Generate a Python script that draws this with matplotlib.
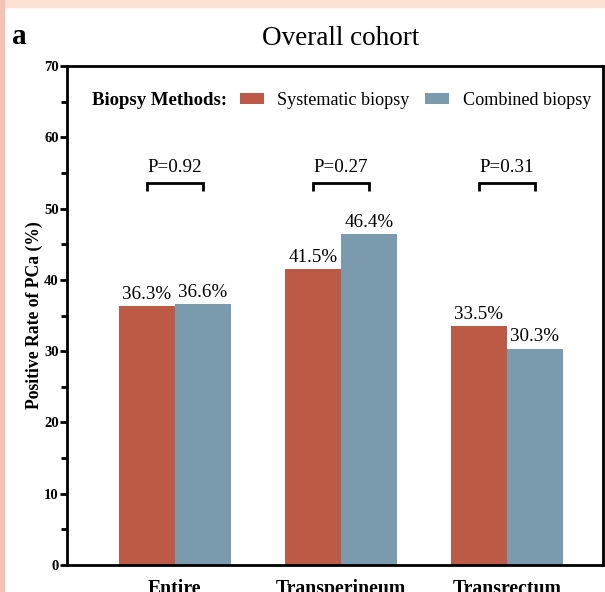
"""Overall cohort: positive rate of PCa by biopsy method and route."""

import matplotlib
matplotlib.use("Agg")
import matplotlib.pyplot as plt
import numpy as np
from matplotlib.patches import Rectangle

SERIF = ["Liberation Serif", "DejaVu Serif"]
plt.rcParams.update({
    "font.family": SERIF,
    "axes.linewidth": 2.0,
})

# ----- data
groups = ["Entire", "Transperineum", "Transrectum"]
systematic = [36.3, 41.5, 33.5]
combined = [36.6, 46.4, 30.3]
p_values = ["P=0.92", "P=0.27", "P=0.31"]
series_names = ["Systematic biopsy", "Combined biopsy"]

C_SYS = "#bc5a45"
C_COMB = "#7a9aad"

fig = plt.figure(figsize=(6.05, 5.92), dpi=100)
fig.patch.set_facecolor("white")

# peach margins left over from the surrounding page
fig.add_artist(Rectangle((0, 1 - 7 / 592), 1, 7 / 592, transform=fig.transFigure,
                         color="#fbe2d4", zorder=0))
fig.add_artist(Rectangle((0, 0), 3.5 / 605, 1, transform=fig.transFigure,
                         color="#f5c3b6", zorder=0))

ax = fig.add_axes([67 / 605, 27 / 592, 536 / 605, 499 / 592])

x = np.arange(len(groups))
w = 0.337
b1 = ax.bar(x - w / 2, systematic, w, color=C_SYS, label=series_names[0])
b2 = ax.bar(x + w / 2, combined, w, color=C_COMB, label=series_names[1])

for bars, vals in ((b1, systematic), (b2, combined)):
    for bar, v in zip(bars, vals):
        ax.text(bar.get_x() + bar.get_width() / 2, v + 0.5, f"{v:.1f}%",
                ha="center", va="bottom", fontsize=13.7)

# significance brackets
for xi, p in zip(x, p_values):
    xl, xr = xi - w / 2, xi + w / 2
    ax.plot([xl, xl, xr, xr], [52.4, 53.6, 53.6, 52.4], color="black",
            lw=2.0, solid_capstyle="butt", solid_joinstyle="miter")
    ax.text(xi, 54.6, p, ha="center", va="bottom", fontsize=13.7)

ax.set_xlim(-0.65, 2.58)
ax.set_ylim(0, 70)
ax.set_yticks(np.arange(0, 71, 10))
ax.set_yticks(np.arange(5, 70, 10), minor=True)
ax.tick_params(axis="y", which="major", length=5, width=2, direction="out",
               labelsize=10.5, pad=1)
ax.tick_params(axis="y", which="minor", length=4, width=2, direction="out")
for lbl in ax.get_yticklabels():
    lbl.set_fontweight("bold")
ax.set_xticks(x)
ax.set_xticklabels(groups, fontsize=14.2, fontweight="bold")
ax.tick_params(axis="x", length=0, pad=10)

ax.set_ylabel("Positive Rate of PCa (%)", fontsize=12.7, fontweight="bold")
ax.yaxis.set_label_coords(-24 / 536, 0.5)

# legend row
ax.text(0.047, 65.2, "Biopsy Methods:", fontsize=13.5, fontweight="bold",
        va="center", ha="left", transform=ax.get_yaxis_transform())
ax.legend(ncol=2, frameon=False, loc="center left",
          bbox_to_anchor=(0.323, 65.2 / 70), borderpad=0, borderaxespad=0,
          handlelength=1.3, handleheight=0.6, handletextpad=0.75,
          columnspacing=0.85, fontsize=13.1)

ax.set_title("Overall cohort", fontsize=19.5, pad=15, fontfamily=SERIF,
             x=0.5 + 6 / 536)
fig.text(12 / 605, 1 - 36 / 592, "a", fontsize=21, fontweight="bold",
         va="center", ha="left")

fig.savefig("out.png", dpi=100, facecolor=fig.get_facecolor())
